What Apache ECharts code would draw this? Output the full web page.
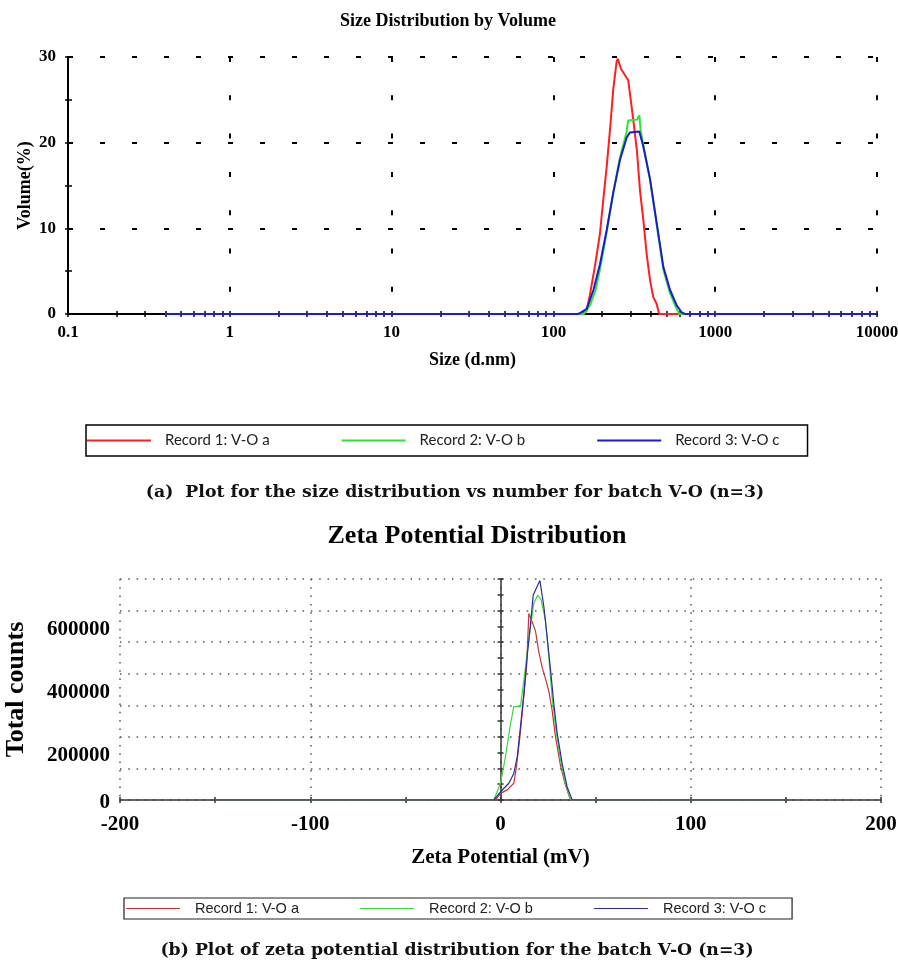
<!DOCTYPE html>
<html>
<head>
<meta charset="utf-8">
<script src="https://cdn.jsdelivr.net/npm/echarts@6/dist/echarts.min.js"></script>
<style>
  html, body { margin: 0; padding: 0; background: #fff; }
  #chart { width: 898px; height: 963px; }
</style>
</head>
<body>
<div id="chart"></div>
<script>
// ---- Size distribution by volume: [diameter (d.nm), volume %] ----
const sizeRecordA = [
  [0.4, 0], [141.8, 0], [160, 0.3], [168, 2.2], [181, 5.7], [194, 9.4], [203, 13.2],
  [213.5, 17.2], [224, 21.6], [234.6, 26.3], [246, 29.5], [250, 29.8], [262, 28.6],
  [283, 27.6], [290, 27.3], [312, 22.6], [328, 19.1], [343, 14.4], [360, 10.9],
  [377, 7.0], [396, 3.9], [414, 2.0], [434, 1.2], [451, 0], [10000, 0]
];
const sizeRecordB = [
  [0.4, 0], [141.8, 0], [154.6, 0], [168, 1.0], [181, 2.6], [194, 5.2], [213.5, 9.6],
  [234.6, 14.2], [258, 18.3], [283, 21.2], [290, 22.6], [330, 22.7], [340, 23.2],
  [346, 21.5], [359, 19.8], [395, 15.8], [435, 10.4], [478, 5.2], [526, 2.4],
  [578, 0.6], [600, 0], [10000, 0]
];
const sizeRecordC = [
  [0.4, 0], [141.8, 0], [146, 0.1], [160.6, 0.6], [176.8, 2.8], [194, 5.8], [213.5, 9.8],
  [234.6, 14.2], [258, 18.0], [283.8, 20.6], [297.5, 21.2], [339.5, 21.3], [359, 19.6],
  [395, 15.8], [435, 10.6], [478, 5.5], [526, 2.8], [578, 1.0], [620, 0.2], [651, 0],
  [10000, 0]
];

// ---- Zeta potential distribution: [zeta potential (mV), total counts] ----
const zetaRecordA = [
  [-150, 0], [-2.6, 0], [0, 21000], [3.5, 32000], [7, 53000], [8.4, 106000], [10.2, 200000],
  [11.9, 306000], [13.7, 422000], [14.9, 591000], [16.6, 565000], [18.4, 535000],
  [20.1, 470000], [21.9, 420000], [23.6, 385000], [25.4, 345000], [27.1, 285000],
  [28.9, 200000], [31.5, 110000], [34.1, 48000], [36.8, 0], [150, 0]
];
const zetaRecordB = [
  [-150, 0], [-3.5, 0], [0, 53000], [2.6, 137000], [5.3, 243000], [7, 296000],
  [10.5, 296000], [12.3, 380000], [14, 465000], [15.8, 549000], [17.5, 623000],
  [19.6, 649000], [21.4, 633000], [23.6, 570000], [25.4, 454000], [27.1, 327000],
  [28.9, 232000], [31.5, 127000], [34.1, 53000], [36.8, 0], [150, 0]
];
const zetaRecordC = [
  [-150, 0], [-3.5, 0], [0, 26000], [4.4, 53000], [7, 84000], [8.8, 137000],
  [10.5, 232000], [12.3, 338000], [14, 454000], [15.8, 560000], [17.2, 649000],
  [18.4, 665000], [20.7, 695000], [22.8, 612000], [24.5, 517000], [26.3, 412000],
  [28, 306000], [29.8, 211000], [32.4, 116000], [35, 42000], [37.7, 0], [150, 0]
];

const recordNames = ['Record 1: V-O a', 'Record 2: V-O b', 'Record 3: V-O c'];

// ---- Axis ticks and labels ----
const sizeLabels = [0.1, 1, 10, 100, 1000, 10000];
const sizeMinorTicks = [];
[0.1, 1, 10, 100, 1000].forEach(function (d) {
  for (let k = 1; k <= 9; k++) sizeMinorTicks.push(+(d * k).toPrecision(6));
});
sizeMinorTicks.push(10000);
const volumeTicks = [0, 5, 10, 15, 20, 25, 30];
const zetaTicks = [-200, -150, -100, -50, 0, 50, 100, 150, 200];
const countLabels = [0, 200000, 400000, 600000];
const countTicks = [0, 50000, 100000, 150000, 200000, 250000, 300000, 350000, 400000,
  450000, 500000, 550000, 600000, 650000, 700000];

const serif = '"Liberation Serif", "Times New Roman", serif';
const captionFont = '"DejaVu Serif", serif';
const sizeColors = ['#ff1f1f', '#2ee62e', '#1c1ccf'];
const zetaColors = ['#c43434', '#3ad83a', '#2c2ca0'];

function line(name, data, color, width, xi, yi, z) {
  return {
    type: 'line', name: name, data: data, xAxisIndex: xi, yAxisIndex: yi,
    showSymbol: false, symbol: 'none', z: z, silent: true,
    lineStyle: { color: color, width: width },
    itemStyle: { color: color }
  };
}

function boldSerif(size) {
  return { fontFamily: serif, fontWeight: 'bold', fontSize: size, color: '#000' };
}

// Extra axes that only carry tick marks (one set outside, one inside the plot)
function tickAxis(base, ticks, inside, len, color) {
  return Object.assign({}, base, {
    axisLine: { show: false },
    axisTick: { show: true, inside: inside, length: len, customValues: ticks,
      lineStyle: { color: color, width: 1.5 } },
    axisLabel: { show: false },
    splitLine: { show: false }
  });
}

const sizeXBase = { type: 'log', logBase: 10, gridIndex: 0, min: 0.1, max: 10000, position: 'bottom' };
const volYBase = { type: 'value', gridIndex: 0, min: 0, max: 30, interval: 10, position: 'left' };
const zetaXBase = { type: 'value', gridIndex: 1, min: -200, max: 200, interval: 100, position: 'bottom' };
const countYBase = { type: 'value', gridIndex: 1, min: 0, max: 700000, interval: 100000, position: 'left' };

const option = {
  animation: false,
  backgroundColor: '#fff',
  title: [
    { text: 'Size Distribution by Volume', left: 448, top: 12, textAlign: 'center', padding: 0,
      textStyle: boldSerif(18) },
    { text: 'Zeta Potential Distribution', left: 477, top: 523, textAlign: 'center', padding: 0,
      textStyle: boldSerif(26) },
    { text: '(a)  Plot for the size distribution vs number for batch V-O (n=3)', left: 455, top: 484,
      textAlign: 'center', padding: 0,
      textStyle: { fontFamily: captionFont, fontWeight: 'bold', fontSize: 17.3, color: '#111' } },
    { text: '(b) Plot of zeta potential distribution for the batch V-O (n=3)', left: 457, top: 942,
      textAlign: 'center', padding: 0,
      textStyle: { fontFamily: captionFont, fontWeight: 'bold', fontSize: 17.3, color: '#111' } }
  ],
  legend: [
    {
      left: 86, top: 425, orient: 'horizontal', selectedMode: false,
      icon: 'rect', itemWidth: 64, itemHeight: 2, itemGap: 72,
      padding: [8, 28, 8, 1], borderColor: '#000', borderWidth: 1.5,
      textStyle: { fontFamily: 'Lato, "Open Sans", sans-serif', fontSize: 15, color: '#222',
        padding: [0, 0, 0, 9] },
      data: recordNames.map(function (n, i) { return { name: n, itemStyle: { color: sizeColors[i] } }; })
    },
    {
      left: 124, top: 898, orient: 'horizontal', selectedMode: false,
      icon: 'rect', itemWidth: 54, itemHeight: 1, itemGap: 61,
      padding: [3, 26, 3, 2], borderColor: '#222', borderWidth: 1.2,
      textStyle: { fontFamily: '"Liberation Sans", Arial, sans-serif', fontSize: 14.5, color: '#222',
        padding: [0, 0, 0, 10] },
      data: recordNames.map(function (n, i) { return { name: n, itemStyle: { color: zetaColors[i] } }; })
    }
  ],
  grid: [
    { left: 68, top: 57, width: 809, height: 257, containLabel: false, outerBoundsMode: 'none' },
    { left: 120, top: 579, width: 761, height: 221, containLabel: false, outerBoundsMode: 'none' }
  ],
  xAxis: [
    Object.assign({}, sizeXBase, {
      splitNumber: 5,
      name: 'Size (d.nm)', nameLocation: 'middle', nameGap: 37, nameMoveOverlap: false,
      nameTextStyle: boldSerif(18),
      axisLine: { lineStyle: { color: '#000', width: 2 } },
      axisTick: { show: false },
      axisLabel: { customValues: sizeLabels, margin: 10, formatter: function (v) { return String(v); },
        fontFamily: serif, fontWeight: 'bold', fontSize: 17, color: '#000' },
      splitLine: { show: true, lineStyle: { color: '#000', width: 2, type: [5, 33.3] } }
    }),
    tickAxis(sizeXBase, sizeMinorTicks, false, 3, '#000'),
    tickAxis(sizeXBase, sizeMinorTicks, true, 3, '#000'),
    Object.assign({}, zetaXBase, {
      name: 'Zeta Potential (mV)', nameLocation: 'middle', nameGap: 47, nameMoveOverlap: false,
      nameTextStyle: boldSerif(21),
      axisLine: { lineStyle: { color: '#333', width: 1.5 } },
      axisTick: { show: false },
      axisLabel: { margin: 14, fontFamily: serif, fontWeight: 'bold', fontSize: 21, color: '#000' },
      splitLine: { show: true, lineStyle: { color: '#555', width: 1.5, type: [1.5, 6.8] } }
    }),
    tickAxis(zetaXBase, zetaTicks, false, 3, '#333'),
    tickAxis(zetaXBase, zetaTicks, true, 3, '#333')
  ],
  yAxis: [
    Object.assign({}, volYBase, {
      name: 'Volume(%)', nameLocation: 'middle', nameGap: 34, nameMoveOverlap: false,
      nameTextStyle: boldSerif(18),
      axisLine: { show: true, lineStyle: { color: '#000', width: 2 } },
      axisTick: { show: false },
      axisLabel: { margin: 12, fontFamily: serif, fontWeight: 'bold', fontSize: 17, color: '#000' },
      splitLine: { show: true, lineStyle: { color: '#000', width: 2, type: [5, 27] } }
    }),
    tickAxis(volYBase, volumeTicks, false, 3, '#000'),
    tickAxis(volYBase, volumeTicks, true, 4, '#000'),
    Object.assign({}, countYBase, {
      name: 'Total counts', nameLocation: 'middle', nameGap: 91, nameMoveOverlap: false,
      nameTextStyle: boldSerif(26),
      axisLine: { show: true, lineStyle: { color: '#333', width: 1.5 } },
      axisTick: { show: false },
      axisLabel: {
        customValues: countLabels, margin: 10,
        // the figure prints each count label half a grid step below its grid line
        formatter: function (v) { return v === 0 ? '{z|0}' : '{s|' + v + '}'; },
        rich: {
          z: Object.assign(boldSerif(21), { padding: [6, 0, 0, 0] }),
          s: Object.assign(boldSerif(21), { padding: [38, 0, 0, 0] })
        }
      },
      splitLine: { show: true, lineStyle: { color: '#555', width: 1.5, type: [1.5, 6.8] } }
    }),
    tickAxis(countYBase, countTicks, false, 3, '#333'),
    tickAxis(countYBase, countTicks, true, 3, '#333')
  ],
  series: [
    line(recordNames[0], sizeRecordA, sizeColors[0], 2, 0, 0, 3),
    line(recordNames[1], sizeRecordB, sizeColors[1], 2, 0, 0, 4),
    line(recordNames[2], sizeRecordC, sizeColors[2], 2, 0, 0, 5),
    line(recordNames[0], zetaRecordA, zetaColors[0], 1.2, 3, 3, 3),
    line(recordNames[1], zetaRecordB, zetaColors[1], 1.2, 3, 3, 4),
    line(recordNames[2], zetaRecordC, zetaColors[2], 1.2, 3, 3, 5)
  ]
};

const chart = echarts.init(document.getElementById('chart'), null, { renderer: 'canvas' });
chart.setOption(option);
</script>
</body>
</html>
